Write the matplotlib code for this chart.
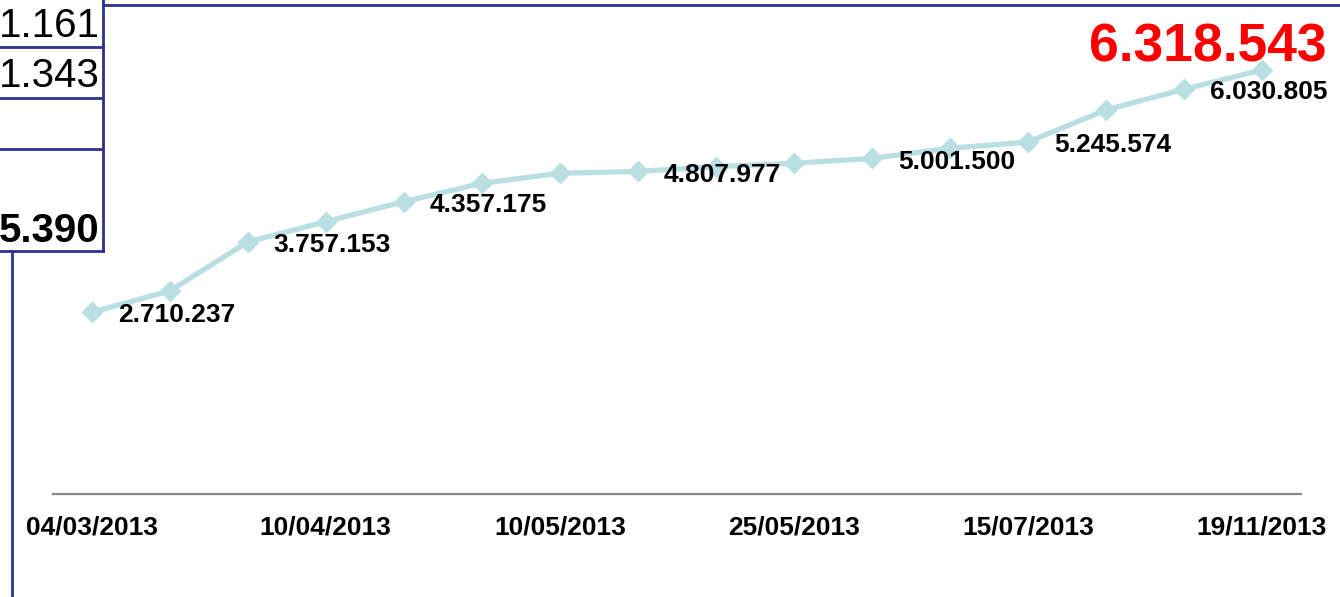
import numpy as np
import matplotlib
matplotlib.use("Agg")
import matplotlib.pyplot as plt
from matplotlib.lines import Line2D

plt.rcParams['font.family'] = ['Liberation Sans', 'DejaVu Sans']

# values (millions)
valori = [2.710237, 3.028, 3.757153, 4.060, 4.357175, 4.631, 4.780, 4.807977,
          4.879, 4.929, 5.001500, 5.153, 5.245574, 5.723, 6.030805, 6.318543]
etichette_idx = [0, 2, 4, 7, 10, 12, 14]
tick_idx = [0, 3, 6, 9, 12, 15]
tick_date = ['04/03/2013', '10/04/2013', '10/05/2013', '25/05/2013', '15/07/2013', '19/11/2013']
box_testi = ['1.161', '1.343', '', '5.390']

def fmt(v):
    return '{:,}'.format(int(round(v * 1e6))).replace(',', '.')

W, H = 1340, 597
fig = plt.figure(figsize=(W / 100, H / 100), dpi=100)
ax = fig.add_axes([52.7 / W, (H - 494.3) / H, (1301 - 52.7) / W, (494.3 - 24.2) / H])

x = np.arange(len(valori))
ax.plot(x, valori, color='#b9dfe3', lw=3.8, marker='D', ms=10.5, mec='#b9dfe3', mfc='#b9dfe3', zorder=2)

for i in etichette_idx:
    ax.annotate(fmt(valori[i]), (x[i], valori[i]), xytext=(18.7, -0.5), textcoords='offset points',
                ha='left', va='center_baseline', fontsize=19, fontweight='bold', color='black', zorder=3)

ax.annotate(fmt(valori[-1]), (x[-1], valori[-1]), xytext=(46.8, 5.8), textcoords='offset points',
            ha='right', va='baseline', fontsize=38.5, fontweight='bold', color='#ff0000', zorder=3)

ax.set_xlim(-0.5, len(valori) - 0.5)
ax.set_ylim(0, 7.0)
ax.set_xticks(tick_idx)
ax.set_xticklabels(tick_date, fontsize=19, fontweight='bold')
ax.tick_params(axis='x', length=0, pad=15)
ax.set_yticks([])
for s in ['top', 'right', 'left']:
    ax.spines[s].set_visible(False)
ax.spines['bottom'].set_color('#888888')
ax.spines['bottom'].set_linewidth(1.6)

# pezzi di tabella tagliati a sinistra
navy = '#2e3192'
def fline(x0, y0, x1, y1):
    fig.add_artist(Line2D([x0 / W, x1 / W], [1 - y0 / H, 1 - y1 / H], color=navy, lw=2))

fline(103, 0, 103, 251)
for yy in [47, 98, 149, 251]:
    fline(0, yy, 103, yy)
fline(103, 5, W, 5)
fline(12, 251, 12, H)

basi = [36.7, 87.3, 138, 241.7]
for t, b in zip(box_testi, basi):
    fig.text(99.5 / W, 1 - b / H, t, ha='right', va='baseline', fontsize=29,
             fontweight='bold' if t == '5.390' else 'normal')

fig.savefig('out.png', dpi=100)
